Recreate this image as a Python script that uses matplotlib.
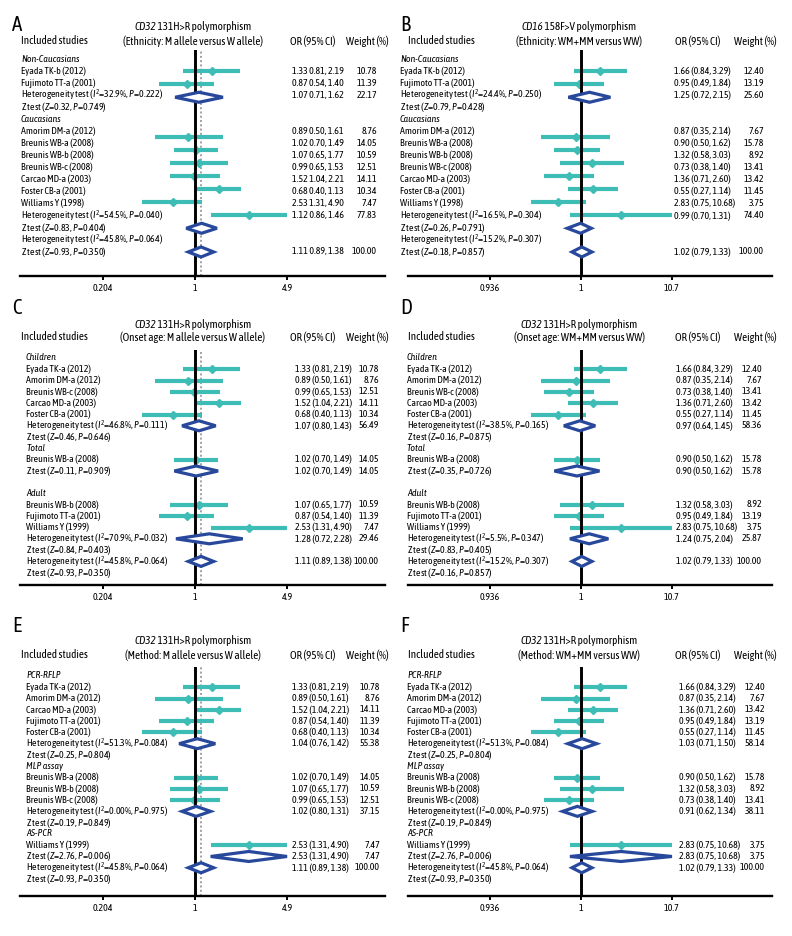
import matplotlib
matplotlib.use("Agg")
import matplotlib.pyplot as plt
from matplotlib import font_manager as fm
from matplotlib.font_manager import FontProperties
from matplotlib.textpath import TextPath
from matplotlib.patches import Polygon
from matplotlib.ticker import NullLocator

# pick the installed narrow sans whose proportions are closest to the original condensed face
entries = fm.fontManager.ttflist
candidates = ['Archivo Narrow', 'PT Sans Narrow', 'Roboto Condensed', 'Fira Sans Condensed',
              'Asap Condensed', 'Barlow Semi Condensed', 'Barlow Condensed', 'IBM Plex Sans Condensed',
              'Encode Sans Condensed', 'Sofia Sans Condensed', 'Liberation Sans Narrow',
              'Saira Semi Condensed', 'Ubuntu Condensed', 'Pragati Narrow']


def shape_ratio(name):
    fp = FontProperties(family=name)
    w = TextPath((0, 0), 'Eyada TK-b (2012)', size=10, prop=fp).get_extents().width
    h = TextPath((0, 0), 'E', size=10, prop=fp).get_extents().height
    return w / h


FONT, best = 'DejaVu Sans', None
for cand in candidates:
    if not any(f.name == cand and f.style == 'italic' for f in entries):
        continue
    if not any(f.name == cand and f.style == 'normal' for f in entries):
        continue
    d = abs(shape_ratio(cand) - 9.1)
    if best is None or d < best:
        FONT, best = cand, d

plt.rcParams['font.family'] = [FONT, 'DejaVu Sans']
plt.rcParams['mathtext.fontset'] = 'custom'
plt.rcParams['mathtext.rm'] = FONT
plt.rcParams['mathtext.it'] = FONT + ':italic'
plt.rcParams['mathtext.bf'] = FONT + ':bold'

TEAL = '#3dbdb6'
NAVY = '#28489c'

# ---------------- data ----------------
groups = {'Non-Caucasians', 'Caucasians', 'Children', 'Total', 'Adult',
          'PCR-RFLP', 'MLP assay', 'AS-PCR'}

# A: CD32, ethnicity, M allele vs W allele
titles_a = [('CD32', ' 131H>R polymorphism'), '(Ethnicity: M allele versus W allele)']
labels_a = ['Non-Caucasians', 'Eyada TK-b (2012)', 'Fujimoto TT-a (2001)',
            r'Heterogeneity test ($I^2$=32.9%, $P$=0.222)', r'Z test ($Z$=0.32, $P$=0.749)',
            'Caucasians', 'Amorim DM-a (2012)', 'Breunis WB-a (2008)', 'Breunis WB-b (2008)',
            'Breunis WB-c (2008)', 'Carcao MD-a (2003)', 'Foster CB-a (2001)', 'Williams Y (1998)',
            r'Heterogeneity test ($I^2$=54.5%, $P$=0.040)', r'Z test ($Z$=0.83, $P$=0.404)',
            r'Heterogeneity test ($I^2$=45.8%, $P$=0.064)', r'Z test ($Z$=0.93, $P$=0.350)']
or_a = ['', '1.33 0.81, 2.19', '0.87 0.54, 1.40', '1.07 0.71, 1.62', '', '',
        '0.89 0.50, 1.61', '1.02 0.70, 1.49', '1.07 0.65, 1.77', '0.99 0.65, 1.53',
        '1.52 1.04, 2.21', '0.68 0.40, 1.13', '2.53 1.31, 4.90', '1.12 0.86, 1.46',
        '', '', '1.11 0.89, 1.38']
wt_a = ['', '10.78', '11.39', '22.17', '', '', '8.76', '14.05', '10.59', '12.51',
        '14.11', '10.34', '7.47', '77.83', '', '', '100.00']

# B: CD16, ethnicity, WM+MM vs WW
titles_b = [('CD16', ' 158F>V polymorphism'), '(Ethnicity: WM+MM versus WW)']
labels_b = ['Non-Caucasians', 'Eyada TK-b (2012)', 'Fujimoto TT-a (2001)',
            r'Heterogeneity test ($I^2$=24.4%, $P$=0.250)', r'Z test ($Z$=0.79, $P$=0.428)',
            'Caucasians', 'Amorim DM-a (2012)', 'Breunis WB-a (2008)', 'Breunis WB-b (2008)',
            'Breunis WB-c (2008)', 'Carcao MD-a (2003)', 'Foster CB-a (2001)', 'Williams Y (1998)',
            r'Heterogeneity test ($I^2$=16.5%, $P$=0.304)', r'Z test ($Z$=0.26, $P$=0.791)',
            r'Heterogeneity test ($I^2$=15.2%, $P$=0.307)', r'Z test ($Z$=0.18, $P$=0.857)']
or_b = ['', '1.66 (0.84, 3.29)', '0.95 (0.49, 1.84)', '1.25 (0.72, 2.15)', '', '',
        '0.87 (0.35, 2.14)', '0.90 (0.50, 1.62)', '1.32 (0.58, 3.03)', '0.73 (0.38, 1.40)',
        '1.36 (0.71, 2.60)', '0.55 (0.27, 1.14)', '2.83 (0.75, 10.68)', '0.99 (0.70, 1.31)',
        '', '', '1.02 (0.79, 1.33)']
wt_b = ['', '12.40', '13.19', '25.60', '', '', '7.67', '15.78', '8.92', '13.41',
        '13.42', '11.45', '3.75', '74.40', '', '', '100.00']

# C: CD32, onset age, M allele vs W allele
titles_c = [('CD32', ' 131H>R polymorphism'), '(Onset age: M allele versus W allele)']
labels_c = ['Children', 'Eyada TK-a (2012)', 'Amorim DM-a (2012)', 'Breunis WB-c (2008)',
            'Carcao MD-a (2003)', 'Foster CB-a (2001)',
            r'Heterogeneity test ($I^2$=46.8%, $P$=0.111)', r'Z test ($Z$=0.46, $P$=0.646)',
            'Total', 'Breunis WB-a (2008)', r'Z test ($Z$=0.11, $P$=0.909)', '',
            'Adult', 'Breunis WB-b (2008)', 'Fujimoto TT-a (2001)', 'Williams Y (1999)',
            r'Heterogeneity test ($I^2$=70.9%, $P$=0.032)', r'Z test ($Z$=0.84, $P$=0.403)',
            r'Heterogeneity test ($I^2$=45.8%, $P$=0.064)', r'Z test ($Z$=0.93, $P$=0.350)']
or_c = ['', '1.33 (0.81, 2.19)', '0.89 (0.50, 1.61)', '0.99 (0.65, 1.53)', '1.52 (1.04, 2.21)',
        '0.68 (0.40, 1.13)', '1.07 (0.80, 1.43)', '', '', '1.02 (0.70, 1.49)',
        '1.02 (0.70, 1.49)', '', '', '1.07 (0.65, 1.77)', '0.87 (0.54, 1.40)',
        '2.53 (1.31, 4.90)', '1.28 (0.72, 2.28)', '', '1.11 (0.89, 1.38)', '']
wt_c = ['', '10.78', '8.76', '12.51', '14.11', '10.34', '56.49', '', '', '14.05', '14.05',
        '', '', '10.59', '11.39', '7.47', '29.46', '', '100.00', '']

# D: CD32, onset age, WM+MM vs WW
titles_d = [('CD32', ' 131H>R polymorphism'), '(Onset age: WM+MM versus WW)']
labels_d = ['Children', 'Eyada TK-a (2012)', 'Amorim DM-a (2012)', 'Breunis WB-c (2008)',
            'Carcao MD-a (2003)', 'Foster CB-a (2001)',
            r'Heterogeneity test ($I^2$=38.5%, $P$=0.165)', r'Z test ($Z$=0.16, $P$=0.875)',
            'Total', 'Breunis WB-a (2008)', r'Z test ($Z$=0.35, $P$=0.726)', '',
            'Adult', 'Breunis WB-b (2008)', 'Fujimoto TT-a (2001)', 'Williams Y (1999)',
            r'Heterogeneity test ($I^2$=5.5%, $P$=0.347)', r'Z test ($Z$=0.83, $P$=0.405)',
            r'Heterogeneity test ($I^2$=15.2%, $P$=0.307)', r'Z test ($Z$=0.16, $P$=0.857)']
or_d = ['', '1.66 (0.84, 3.29)', '0.87 (0.35, 2.14)', '0.73 (0.38, 1.40)', '1.36 (0.71, 2.60)',
        '0.55 (0.27, 1.14)', '0.97 (0.64, 1.45)', '', '', '0.90 (0.50, 1.62)',
        '0.90 (0.50, 1.62)', '', '', '1.32 (0.58, 3.03)', '0.95 (0.49, 1.84)',
        '2.83 (0.75, 10.68)', '1.24 (0.75, 2.04)', '', '1.02 (0.79, 1.33)', '']
wt_d = ['', '12.40', '7.67', '13.41', '13.42', '11.45', '58.36', '', '', '15.78', '15.78',
        '', '', '8.92', '13.19', '3.75', '25.87', '', '100.00', '']

# E: CD32, method, M allele vs W allele
titles_e = [('CD32', ' 131H>R polymorphism'), '(Method: M allele versus W allele)']
labels_e = ['PCR-RFLP', 'Eyada TK-a (2012)', 'Amorim DM-a (2012)', 'Carcao MD-a (2003)',
            'Fujimoto TT-a (2001)', 'Foster CB-a (2001)',
            r'Heterogeneity test ($I^2$=51.3%, $P$=0.084)', r'Z test ($Z$=0.25, $P$=0.804)',
            'MLP assay', 'Breunis WB-a (2008)', 'Breunis WB-b (2008)', 'Breunis WB-c (2008)',
            r'Heterogeneity test ($I^2$=0.00%, $P$=0.975)', r'Z test ($Z$=0.19, $P$=0.849)',
            'AS-PCR', 'Williams Y (1999)', r'Z test ($Z$=2.76, $P$=0.006)',
            r'Heterogeneity test ($I^2$=45.8%, $P$=0.064)', r'Z test ($Z$=0.93, $P$=0.350)']
or_e = ['', '1.33 (0.81, 2.19)', '0.89 (0.50, 1.61)', '1.52 (1.04, 2.21)', '0.87 (0.54, 1.40)',
        '0.68 (0.40, 1.13)', '1.04 (0.76, 1.42)', '', '', '1.02 (0.70, 1.49)',
        '1.07 (0.65, 1.77)', '0.99 (0.65, 1.53)', '1.02 (0.80, 1.31)', '', '',
        '2.53 (1.31, 4.90)', '2.53 (1.31, 4.90)', '1.11 (0.89, 1.38)', '']
wt_e = ['', '10.78', '8.76', '14.11', '11.39', '10.34', '55.38', '', '', '14.05', '10.59',
        '12.51', '37.15', '', '', '7.47', '7.47', '100.00', '']

# F: CD32, method, WM+MM vs WW
titles_f = [('CD32', ' 131H>R polymorphism'), '(Method: WM+MM versus WW)']
labels_f = labels_e
or_f = ['', '1.66 (0.84, 3.29)', '0.87 (0.35, 2.14)', '1.36 (0.71, 2.60)', '0.95 (0.49, 1.84)',
        '0.55 (0.27, 1.14)', '1.03 (0.71, 1.50)', '', '', '0.90 (0.50, 1.62)',
        '1.32 (0.58, 3.03)', '0.73 (0.38, 1.40)', '0.91 (0.62, 1.34)', '', '',
        '2.83 (0.75, 10.68)', '2.83 (0.75, 10.68)', '1.02 (0.79, 1.33)', '']
wt_f = ['', '12.40', '7.67', '13.42', '13.19', '11.45', '58.14', '', '', '15.78', '8.92',
        '13.41', '38.11', '', '', '3.75', '3.75', '100.00', '']

ticks_left = [1 / 4.9, 1, 4.9]
ticklabels_left = ['0.204', '1', '4.9']
ticks_right = [1 / 10.7, 1, 10.7]
ticklabels_right = ['0.936', '1', '10.7']

# ---------------- layout (pixels) ----------------
W, H = 792, 936
fig = plt.figure(figsize=(W / 100, H / 100), dpi=100)
renderer = fig.canvas.get_renderer()


def text_width(text, size, **kw):
    t = fig.text(0, 0, text, fontsize=size, **kw)
    w = t.get_window_extent(renderer).width
    t.remove()
    return w


HDR = 10 * 68 / text_width('Included studies', 10)
LAB = 10 * 64 / text_width('Eyada TK-b (2012)', 10)

LEFT = dict(x0=20, x1=385, xlim=(0.0487, 26.6), ticks=ticks_left, ticklabels=ticklabels_left,
            letter_x=12, hdr_x=21, title_x=193, orh_x=290, wth_x=389)
RIGHT = dict(x0=408, x1=772, xlim=(0.01106, 144.6), ticks=ticks_right, ticklabels=ticklabels_right,
             letter_x=400, hdr_x=408, title_x=579, orh_x=675, wth_x=777)
TOP = dict(letter_y=25, t1=27, t2=41, row0=59, step=12.06, ax_top=50, ax_bot=276)
MID = dict(letter_y=308, t1=324, t2=337, row0=358, step=11.3, ax_top=350, ax_bot=585)
BOT = dict(letter_y=626, t1=641, t2=655, row0=676, step=11.28, ax_top=667, ax_bot=896)

panels = [
    ('A', titles_a, labels_a, or_a, wt_a, LEFT, TOP, dict(lab_x=21, or_x=292, wt_x=377, mark_step=13.1, stretch=13)),
    ('B', titles_b, labels_b, or_b, wt_b, RIGHT, TOP, dict(lab_x=400, or_x=674, wt_x=764, mark_step=13.1, stretch=13)),
    ('C', titles_c, labels_c, or_c, wt_c, LEFT, MID, dict(lab_x=26, or_x=295, wt_x=379)),
    ('D', titles_d, labels_d, or_d, wt_d, RIGHT, MID, dict(lab_x=407, or_x=676, wt_x=762)),
    ('E', titles_e, labels_e, or_e, wt_e, LEFT, BOT, dict(lab_x=26, or_x=292, wt_x=380)),
    ('F', titles_f, labels_f, or_f, wt_f, RIGHT, BOT, dict(lab_x=407, or_x=679, wt_x=765)),
]


def ftext(x, y, s, **kw):
    fig.text(x / W, 1 - y / H, s, va='center', **kw)


def parse_or(s):
    vals = s.replace('(', ' ').replace(')', ' ').replace(',', ' ').split()
    return [float(v) for v in vals]


for letter, titles, labels, ors, wts, col, row, own in panels:
    x0, x1 = col['x0'], col['x1']
    top, bot = row['ax_top'], row['ax_bot']
    ax = fig.add_axes([x0 / W, 1 - bot / H, (x1 - x0) / W, (bot - top) / H])
    ax.set_xscale('log')
    ax.set_xlim(*col['xlim'])
    ax.set_ylim(bot, top)
    ax.set_facecolor('none')
    for side in ('top', 'left', 'right'):
        ax.spines[side].set_visible(False)
    ax.spines['bottom'].set_linewidth(1.7)
    ax.set_yticks([])
    ax.set_xticks(col['ticks'])
    ax.set_xticklabels(col['ticklabels'])
    ax.xaxis.set_minor_locator(NullLocator())
    ax.tick_params(axis='x', direction='out', length=3, width=1.4, labelsize=LAB, pad=2.5)

    # headers
    ftext(col['letter_x'], row['letter_y'], letter, fontsize=15, ha='left')
    gene, rest = titles[0]
    w_gene = text_width(gene, HDR, fontstyle='italic')
    w_rest = text_width(rest, HDR)
    start = col['title_x'] - (w_gene + w_rest) / 2
    ftext(start, row['t1'], gene, fontsize=HDR, ha='left', fontstyle='italic')
    ftext(start + w_gene, row['t1'], rest, fontsize=HDR, ha='left')
    ftext(col['title_x'], row['t2'], titles[1], fontsize=HDR, ha='center')
    ftext(col['hdr_x'], row['t2'], 'Included studies', fontsize=HDR, ha='left')
    ftext(col['orh_x'], row['t2'], 'OR (95% CI)', fontsize=HDR, ha='left')
    ftext(col['wth_x'], row['t2'], 'Weight (%)', fontsize=HDR, ha='right')

    overall = None
    for i, lab in enumerate(labels):
        y = row['row0'] + i * row['step']
        if lab in groups:
            ftext(own['lab_x'], y, lab, fontsize=LAB, ha='left', fontstyle='italic')
        elif lab:
            ftext(own['lab_x'], y, lab, fontsize=LAB, ha='left')
        if not ors[i]:
            continue
        ftext(own['or_x'], y, ors[i], fontsize=LAB, ha='left')
        ftext(own['wt_x'], y, wts[i], fontsize=LAB, ha='right')

        est, lo, hi = parse_or(ors[i])
        if wts[i] == '100.00':
            overall = est
        # marks in A and B sit on a slightly wider row grid than their labels
        ym = y
        if 'mark_step' in own and i <= own['stretch']:
            ym = row['row0'] + row['step'] + (i - 1) * own['mark_step']
        if lab.startswith(('Heterogeneity', 'Z test')):
            h = 5
            ax.add_patch(Polygon([(lo, ym), (est, ym - h), (hi, ym), (est, ym + h)], closed=True,
                                 facecolor='white', edgecolor=NAVY, lw=2.3, joinstyle='miter', zorder=4))
        else:
            ax.plot([lo, hi], [ym, ym], color=TEAL, lw=3, solid_capstyle='butt', zorder=2)
            ax.plot([est], [ym], marker='D', ms=4, color=TEAL, zorder=2)

    ax.axvline(1, color='black', lw=2.1, zorder=3)
    ax.axvline(overall, color='#a0a0a0', lw=1.4, ls=(0, (1, 1.2)), zorder=1)

fig.savefig('out.png', dpi=100)
